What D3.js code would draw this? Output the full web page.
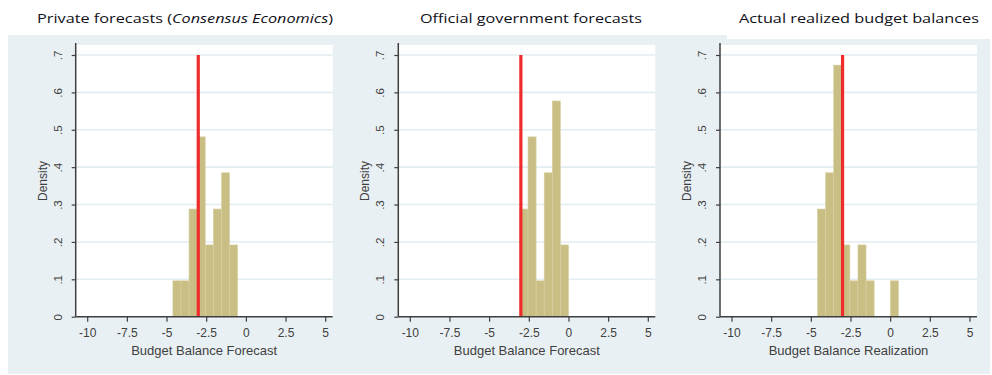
<!DOCTYPE html>
<html>
<head>
<meta charset="utf-8">
<script src="https://cdn.jsdelivr.net/npm/d3@7/dist/d3.min.js"></script>
<style>
  html, body { margin: 0; padding: 0; background: #ffffff; }
  svg { display: block; }
</style>
</head>
<body>
<svg id="chart" width="992" height="375"></svg>
<script>
// Histogram densities (fiscal-year budget balance, % of GDP), bin width shared by all panels
const binWidth = 0.51;

const privateStart = -4.6;
const privateDensity = [0.096, 0.096, 0.288, 0.481, 0.192, 0.288, 0.385, 0.192];

const officialStart = -3.06;
const officialDensity = [0.288, 0.481, 0.096, 0.385, 0.577, 0.192];

const actualStart = -4.58;
const actualDensity = [0.288, 0.385, 0.673, 0.192, 0.096, 0.192, 0.096, 0, 0, 0.096];

// Reference line: the -3% deficit threshold
const thresholdValue = -3;
const thresholdTop = 0.7;

const xTickValues = [-10, -7.5, -5, -2.5, 0, 2.5, 5];
const yTickValues = [0, 0.1, 0.2, 0.3, 0.4, 0.5, 0.6, 0.7];

const panelTitles = ["Private forecasts (", "Official  government forecasts", "Actual realized budget balances"];
const xTitles = ["Budget Balance Forecast", "Budget Balance Forecast", "Budget Balance Realization"];
const yTitle = "Density";

const panels = [
  { start: privateStart, density: privateDensity, xTitle: xTitles[0] },
  { start: officialStart, density: officialDensity, xTitle: xTitles[1] },
  { start: actualStart, density: actualDensity, xTitle: xTitles[2] }
];

// ---- layout ----
const svg = d3.select("#chart");
const axisLeftX = [75.7, 398.3, 720];
const plotW = 257;
const plotTop = 45;
const plotBottom = 316.7;
const titleBox = [
  { x: 37, w: 296 },
  { x: 420, w: 222 },
  { x: 739, w: 240 }
];

const bgColor = "#e9f0f3";
const barColor = "#c9bf84";
const axisColor = "#3f3f3f";
const labelColor = "#404040";
const font = "'Liberation Sans', Arial, sans-serif";

// outer grey graph region
svg.append("rect").attr("x", 8).attr("y", 35).attr("width", 982).attr("height", 339).attr("fill", bgColor);
// white strip behind the third title
svg.append("rect").attr("x", 727).attr("y", 0).attr("width", 265).attr("height", 39).attr("fill", "#ffffff");

const y = d3.scaleLinear().domain([0, 0.7]).range([plotBottom, plotTop + 10]);

panels.forEach((p, i) => {
  const left = axisLeftX[i];
  const right = left + plotW;
  const x = d3.scaleLinear().domain([-10, 5]).range([left + 11.5, left + 249.5]);
  const g = svg.append("g");

  // white plot area
  g.append("rect")
    .attr("x", left).attr("y", plotTop)
    .attr("width", plotW).attr("height", plotBottom - plotTop)
    .attr("fill", "#ffffff");

  // horizontal grid lines
  g.append("g").selectAll("line")
    .data(yTickValues.filter(d => d > 0))
    .join("line")
    .attr("x1", left).attr("x2", right)
    .attr("y1", d => y(d)).attr("y2", d => y(d))
    .attr("stroke", "#e3edf1").attr("stroke-width", 1.6);

  // histogram bars
  const bins = p.density.map((d, k) => ({ x0: p.start + k * binWidth, x1: p.start + (k + 1) * binWidth, d }));
  g.append("g").selectAll("rect")
    .data(bins.filter(b => b.d > 0))
    .join("rect")
    .attr("x", b => x(b.x0))
    .attr("width", b => x(b.x1) - x(b.x0))
    .attr("y", b => y(b.d))
    .attr("height", b => y(0) - y(b.d))
    .attr("fill", barColor)
    .attr("stroke", "#d8d1a4")
    .attr("stroke-width", 0.6);

  // -3% reference line
  g.append("line")
    .attr("x1", x(thresholdValue)).attr("x2", x(thresholdValue))
    .attr("y1", y(0)).attr("y2", y(thresholdTop))
    .attr("stroke", "#ef2b2b").attr("stroke-width", 3.2);

  // y axis
  const yAxis = g.append("g")
    .attr("transform", `translate(${left},0)`)
    .call(d3.axisLeft(y).tickValues(yTickValues).tickSize(4)
      .tickFormat(d => d === 0 ? "0" : d3.format(".1f")(d).replace(/^0/, "")));
  yAxis.select(".domain").attr("d", `M0,${plotTop - 2}V${plotBottom}`).attr("stroke", axisColor).attr("stroke-width", 1.5);
  yAxis.selectAll(".tick line").attr("stroke", axisColor).attr("stroke-width", 1.2);
  yAxis.selectAll(".tick text")
    .attr("transform", "rotate(-90)")
    .attr("x", 0).attr("y", -14).attr("dy", 0)
    .attr("text-anchor", "middle")
    .attr("fill", labelColor)
    .style("font-family", font).style("font-size", "11.5px");

  // x axis
  const xAxis = g.append("g")
    .attr("transform", `translate(0,${plotBottom})`)
    .call(d3.axisBottom(x).tickValues(xTickValues).tickSize(5).tickPadding(7)
      .tickFormat(d => String(d)));
  xAxis.select(".domain").attr("d", `M${left},0H${right}`).attr("stroke", axisColor).attr("stroke-width", 1.5);
  xAxis.selectAll(".tick line").attr("stroke", axisColor).attr("stroke-width", 1.2);
  xAxis.selectAll(".tick text")
    .attr("fill", labelColor)
    .style("font-family", font).style("font-size", "12px");

  // axis titles
  g.append("text")
    .attr("x", (left + right) / 2).attr("y", 355)
    .attr("text-anchor", "middle")
    .attr("fill", labelColor)
    .style("font-family", font).style("font-size", "13px")
    .text(p.xTitle);

  g.append("text")
    .attr("transform", `translate(${left - 29},${181}) rotate(-90)`)
    .attr("text-anchor", "middle")
    .attr("fill", labelColor)
    .style("font-family", font).style("font-size", "12px")
    .text(yTitle);

  // panel title
  const t = svg.append("text")
    .attr("x", titleBox[i].x).attr("y", 23)
    .attr("textLength", titleBox[i].w)
    .attr("lengthAdjust", "spacingAndGlyphs")
    .attr("fill", "#101018")
    .style("font-family", "'Open Sans', 'Noto Sans', sans-serif")
    .style("font-size", "13.5px")
    .style("font-weight", "500");
  if (i === 0) {
    t.append("tspan").text(panelTitles[0]);
    t.append("tspan").style("font-style", "italic").text("Consensus Economics");
    t.append("tspan").text(")");
  } else {
    t.text(panelTitles[i]);
  }
});
</script>
</body>
</html>
